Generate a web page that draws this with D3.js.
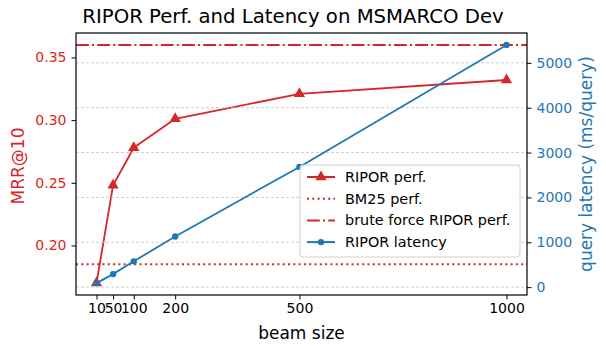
<!DOCTYPE html>
<html>
<head>
<meta charset="utf-8">
<script src="https://cdn.jsdelivr.net/npm/d3@7"></script>
<style>
  body { margin: 0; background: #fff; }
  svg text { font-family: "DejaVu Sans", sans-serif; }
</style>
</head>
<body>
<div id="chart"></div>
<script>
const beamSizes = [10, 50, 100, 200, 500, 1000]
const riporPerf = [0.170, 0.248, 0.278, 0.301, 0.321, 0.332]
const riporLatency = [90, 290, 575, 1130, 2680, 5400]
const bm25Perf = 0.185
const bruteForcePerf = 0.360
const xTicks = [10, 50, 100, 200, 500, 1000]
const leftTicks = [0.20, 0.25, 0.30, 0.35]
const rightTicks = [0, 1000, 2000, 3000, 4000, 5000]

const red = '#d62728'
const blue = '#1f77b4'

const width = 606, height = 346
const m = { left: 76, right: 527, top: 33, bottom: 295 }

const svg = d3.select('#chart').append('svg')
  .attr('width', width)
  .attr('height', height)

// matplotlib-ish 5% margins
const x = d3.scaleLinear().domain([10 - 49.5, 1000 + 49.5]).range([m.left, m.right])
const yL = d3.scaleLinear().domain([0.1605, 0.3695]).range([m.bottom, m.top])
const yR = d3.scaleLinear().domain([90 - 0.05 * 5310, 5400 + 0.05 * 5310]).range([m.bottom, m.top])

// red lines (left axis)
svg.append('line')
  .attr('x1', m.left).attr('x2', m.right)
  .attr('y1', yL(bm25Perf)).attr('y2', yL(bm25Perf))
  .attr('stroke', red).attr('stroke-width', 2)
  .attr('stroke-dasharray', '2,3.3')

svg.append('line')
  .attr('x1', m.left).attr('x2', m.right)
  .attr('y1', yL(bruteForcePerf)).attr('y2', yL(bruteForcePerf))
  .attr('stroke', red).attr('stroke-width', 2)
  .attr('stroke-dasharray', '12.8,3.2,2,3.2')

const perfLine = d3.line().x((d, i) => x(beamSizes[i])).y(d => yL(d))
svg.append('path')
  .datum(riporPerf)
  .attr('d', perfLine)
  .attr('fill', 'none')
  .attr('stroke', red)
  .attr('stroke-width', 1.8)

const tri = d3.symbol().type(d3.symbolTriangle).size(55)
svg.selectAll('.tri')
  .data(riporPerf)
  .enter().append('path')
  .attr('d', tri)
  .attr('transform', (d, i) => `translate(${x(beamSizes[i])},${yL(d)})`)
  .attr('fill', red)

// grid from right axis
svg.selectAll('.grid')
  .data(rightTicks)
  .enter().append('line')
  .attr('x1', m.left).attr('x2', m.right)
  .attr('y1', d => yR(d)).attr('y2', d => yR(d))
  .attr('stroke', '#c4c4c4')
  .attr('stroke-width', 0.8)
  .attr('stroke-dasharray', '3,2')

// blue latency line
const latLine = d3.line().x((d, i) => x(beamSizes[i])).y(d => yR(d))
svg.append('path')
  .datum(riporLatency)
  .attr('d', latLine)
  .attr('fill', 'none')
  .attr('stroke', blue)
  .attr('stroke-width', 1.8)

svg.selectAll('.dot')
  .data(riporLatency)
  .enter().append('circle')
  .attr('cx', (d, i) => x(beamSizes[i]))
  .attr('cy', d => yR(d))
  .attr('r', 3.2)
  .attr('fill', blue)

// frame
svg.append('rect')
  .attr('x', m.left).attr('y', m.top)
  .attr('width', m.right - m.left).attr('height', m.bottom - m.top)
  .attr('fill', 'none').attr('stroke', '#000').attr('stroke-width', 1.2)

// axes
const xAxis = svg.append('g')
  .attr('transform', `translate(0,${m.bottom})`)
  .call(d3.axisBottom(x).tickValues(xTicks).tickSize(4.5).tickPadding(4).tickFormat(d3.format('d')))
xAxis.select('.domain').remove()
xAxis.selectAll('text').attr('font-size', 14).attr('fill', '#000')

const leftAxis = svg.append('g')
  .attr('transform', `translate(${m.left},0)`)
  .call(d3.axisLeft(yL).tickValues(leftTicks).tickSize(4.5).tickPadding(5).tickFormat(d3.format('.2f')))
leftAxis.select('.domain').remove()
leftAxis.selectAll('text').attr('font-size', 14).attr('fill', red)

const rightAxis = svg.append('g')
  .attr('transform', `translate(${m.right},0)`)
  .call(d3.axisRight(yR).tickValues(rightTicks).tickSize(4.5).tickPadding(5).tickFormat(d3.format('d')))
rightAxis.select('.domain').remove()
rightAxis.selectAll('text').attr('font-size', 14).attr('fill', blue)

// labels
svg.append('text')
  .attr('x', 293).attr('y', 23)
  .attr('text-anchor', 'middle')
  .attr('font-size', 19.7)
  .text('RIPOR Perf. and Latency on MSMARCO Dev')

svg.append('text')
  .attr('x', (m.left + m.right) / 2).attr('y', 339)
  .attr('text-anchor', 'middle')
  .attr('font-size', 17)
  .text('beam size')

svg.append('text')
  .attr('transform', `translate(24,${(m.top + m.bottom) / 2 + 2}) rotate(-90)`)
  .attr('text-anchor', 'middle')
  .attr('font-size', 17)
  .attr('fill', red)
  .text('MRR@10')

svg.append('text')
  .attr('transform', `translate(592,${(m.top + m.bottom) / 2}) rotate(-90)`)
  .attr('text-anchor', 'middle')
  .attr('font-size', 17)
  .attr('fill', blue)
  .text('query latency (ms/query)')

// legend
const legendItems = [
  { label: 'RIPOR perf.', color: red, dash: null, marker: 'tri' },
  { label: 'BM25 perf.', color: red, dash: '2,3.3', marker: null },
  { label: 'brute force RIPOR perf.', color: red, dash: '12.8,3.2,2,3.2', marker: null },
  { label: 'RIPOR latency', color: blue, dash: null, marker: 'dot' }
]

const lg = svg.append('g').attr('transform', 'translate(300,165)')
lg.append('rect')
  .attr('width', 220).attr('height', 92)
  .attr('rx', 3)
  .attr('fill', 'rgba(255,255,255,0.8)')
  .attr('stroke', '#d0d0d0')

legendItems.forEach((d, i) => {
  const yy = 12 + i * 21.7
  lg.append('line')
    .attr('x1', 7).attr('x2', 35)
    .attr('y1', yy).attr('y2', yy)
    .attr('stroke', d.color).attr('stroke-width', 2)
    .attr('stroke-dasharray', d.dash)
  if (d.marker === 'tri') {
    lg.append('path').attr('d', tri).attr('transform', `translate(21,${yy})`).attr('fill', d.color)
  } else if (d.marker === 'dot') {
    lg.append('circle').attr('cx', 21).attr('cy', yy).attr('r', 3.2).attr('fill', d.color)
  }
  lg.append('text')
    .attr('x', 45).attr('y', yy + 5)
    .attr('font-size', 14.4)
    .text(d.label)
})
</script>
</body>
</html>
